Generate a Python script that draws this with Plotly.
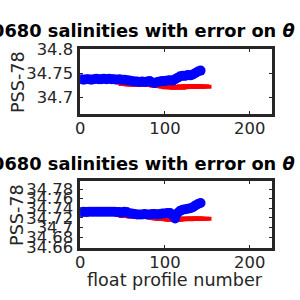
import plotly.graph_objects as go

# ---- data ----
profiles_blue = list(range(1, 143, 3))
top_blue = [34.738, 34.737, 34.738, 34.738, 34.737, 34.738, 34.739, 34.738, 34.738, 34.739,
            34.738, 34.739, 34.738, 34.738, 34.737, 34.738, 34.737, 34.737, 34.736, 34.735,
            34.734, 34.733, 34.733, 34.732, 34.733, 34.732, 34.733, 34.734, 34.731, 34.730,
            34.732, 34.733, 34.734, 34.734, 34.735, 34.736, 34.735, 34.738, 34.741, 34.744,
            34.745, 34.745, 34.747, 34.746, 34.748, 34.751, 34.754, 34.756]
bot_blue = [34.732, 34.733, 34.732, 34.733, 34.733, 34.733, 34.733, 34.733, 34.733, 34.733,
            34.733, 34.733, 34.733, 34.733, 34.732, 34.732, 34.731, 34.733, 34.732, 34.729,
            34.729, 34.728, 34.727, 34.727, 34.727, 34.728, 34.727, 34.727, 34.728, 34.728,
            34.727, 34.728, 34.729, 34.729, 34.730, 34.730, 34.725, 34.719, 34.730, 34.735,
            34.737, 34.738, 34.739, 34.740, 34.742, 34.746, 34.749, 34.751]

profiles_red = list(range(55, 146, 3))
top_red = [34.728, 34.728, 34.727, 34.727, 34.727, 34.727, 34.727, 34.727, 34.727, 34.727,
           34.726, 34.726, 34.725, 34.724, 34.724, 34.723, 34.722, 34.721, 34.721, 34.721,
           34.720, 34.721, 34.722, 34.723, 34.722, 34.723, 34.722, 34.723, 34.722, 34.723, 34.722]
bot_red = [34.724, 34.724, 34.724, 34.723, 34.723, 34.723, 34.723, 34.723, 34.723, 34.722,
           34.722, 34.721, 34.720, 34.719, 34.718, 34.718, 34.718, 34.717, 34.716, 34.716,
           34.717, 34.718, 34.718, 34.717, 34.718, 34.718, 34.718, 34.719, 34.718, 34.718, 34.718]

green_x_top = [118]
green_y_top = [34.720]
green_x_bot = [112, 139]
green_y_bot = [34.714, 34.721]

x_ticks = [0, 100, 200]
top_yticks = [34.7, 34.75, 34.8]
top_yticktext = ["34.7", "34.75", "34.8"]
bot_yticks = [34.66, 34.68, 34.70, 34.72, 34.74, 34.76, 34.78]
bot_yticktext = ["34.66", "34.68", "34.7", "34.72", "34.74", "34.76", "34.78"]

title_text = "5900680 salinities with error on <i>θ</i>"
ylabel = "PSS-78"
xlabel = "float profile number"

# ---- figure ----
W = H = 300
AX = "#262626"
FONT = "DejaVu Sans"

fig = go.Figure()

def add_panel(xref, yref, bx, by, rx, ry, gx, gy):
    fig.add_trace(go.Scatter(x=gx, y=gy, mode="markers", xaxis=xref, yaxis=yref,
                             marker=dict(symbol="line-ew", size=6, color="#00ff00",
                                         line=dict(width=2, color="#00ff00")),
                             showlegend=False, hoverinfo="skip"))
    fig.add_trace(go.Scatter(x=rx, y=ry, mode="markers", xaxis=xref, yaxis=yref,
                             marker=dict(symbol="line-ew", size=12, color="#ff0000",
                                         line=dict(width=4, color="#ff0000")),
                             showlegend=False, hoverinfo="skip"))
    fig.add_trace(go.Scatter(x=bx, y=by, mode="markers", xaxis=xref, yaxis=yref,
                             marker=dict(symbol="circle", size=10, color="#0000ff",
                                         line=dict(width=0)),
                             showlegend=False, hoverinfo="skip"))

add_panel("x", "y", profiles_blue, top_blue, profiles_red, top_red, green_x_top, green_y_top)
add_panel("x2", "y2", profiles_blue, bot_blue, profiles_red, bot_red, green_x_bot, green_y_bot)

xdom = [76.5 / W, 271.7 / W]
common_x = dict(range=[0, 226.5], tickvals=x_ticks, ticks="inside", ticklen=3, tickwidth=1,
                tickcolor=AX, showline=True, linecolor=AX, linewidth=2.5, mirror="allticks",
                showgrid=False, zeroline=False, domain=xdom, ticklabelstandoff=-2,
                tickfont=dict(family=FONT, size=16.4, color=AX))
common_y = dict(ticks="inside", ticklen=3, tickwidth=1, tickcolor=AX, showline=True,
                linecolor=AX, linewidth=2.5, mirror="allticks", showgrid=False,
                zeroline=False, ticklabelstandoff=1,
                tickfont=dict(family=FONT, size=16.4, color=AX))

fig.update_layout(
    width=W, height=H, margin=dict(l=0, r=0, t=0, b=0),
    paper_bgcolor="white", plot_bgcolor="white", showlegend=False,
    xaxis=dict(common_x, anchor="y"),
    xaxis2=dict(common_x, anchor="y2"),
    yaxis=dict(common_y, anchor="x", range=[34.665, 34.801],
               domain=[1 - 111.7 / H, 1 - 42.7 / H],
               tickvals=top_yticks, ticktext=top_yticktext),
    yaxis2=dict(common_y, anchor="x2", range=[34.658, 34.796],
                domain=[1 - 254 / H, 1 - 183.3 / H],
                tickvals=bot_yticks, ticktext=bot_yticktext),
)

for ty in [22.8, 164.3]:
    fig.add_annotation(text="<b>" + title_text + "</b>", xref="paper", yref="paper",
                       x=297 / W, y=1 - ty / H, xanchor="right", yanchor="middle",
                       showarrow=False, font=dict(family=FONT, size=17.8, color="black"))
for cy in [77.2, 218.6]:
    fig.add_annotation(text=ylabel, xref="paper", yref="paper", x=12.7 / W, y=1 - cy / H,
                       xanchor="center", yanchor="middle", textangle=-90, showarrow=False,
                       font=dict(family=FONT, size=17.6, color=AX))
fig.add_annotation(text=xlabel, xref="paper", yref="paper", x=173 / W, y=1 - 288 / H,
                   xanchor="center", yanchor="middle", showarrow=False,
                   font=dict(family=FONT, size=17.6, color=AX))

fig.write_html("out.html")
